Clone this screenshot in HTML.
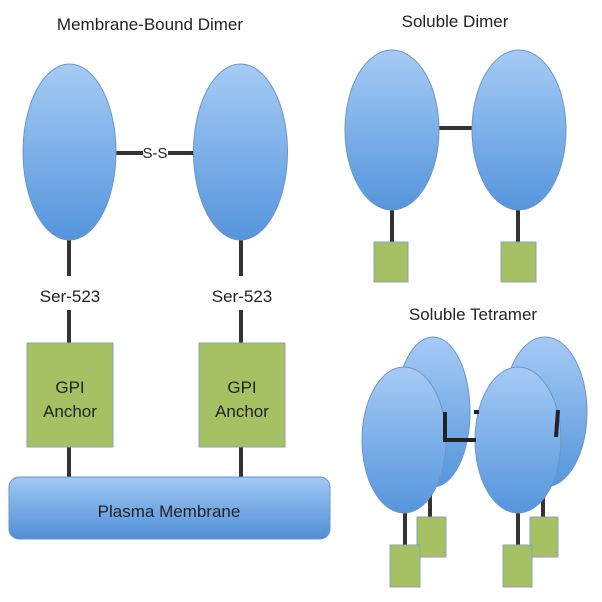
<!DOCTYPE html>
<html><head><style>
html,body{margin:0;padding:0;background:#fff;}
svg{display:block;}
text{font-family:"Liberation Sans","DejaVu Sans",sans-serif;fill:#222;}
</style></head><body>
<svg width="602" height="602" viewBox="0 0 602 602" xmlns="http://www.w3.org/2000/svg">
<defs>
<linearGradient id="b" x1="0" y1="0" x2="0" y2="1">
<stop offset="0" stop-color="#a6cbf5"/><stop offset="1" stop-color="#5595dc"/>
</linearGradient>
<linearGradient id="m" x1="0" y1="0" x2="0" y2="1">
<stop offset="0" stop-color="#a2c8f4"/><stop offset="1" stop-color="#4f8fd6"/>
</linearGradient>
</defs>
<g stroke="#333" stroke-width="4">
<line x1="69" y1="235" x2="69" y2="276"/><line x1="241" y1="235" x2="241" y2="276"/>
<line x1="69" y1="310" x2="69" y2="345"/><line x1="241" y1="310" x2="241" y2="345"/>
<line x1="69" y1="445" x2="69" y2="478"/><line x1="241" y1="445" x2="241" y2="478"/>
<line x1="113" y1="153" x2="143" y2="153"/><line x1="168" y1="153" x2="195" y2="153"/>
<line x1="392" y1="205" x2="392" y2="243"/><line x1="518" y1="205" x2="518" y2="243"/>
<line x1="438" y1="128" x2="474" y2="128"/>
<line x1="405" y1="508" x2="405" y2="546"/><line x1="430" y1="483" x2="430" y2="518"/>
<line x1="518" y1="508" x2="518" y2="546"/><line x1="543" y1="483" x2="543" y2="518"/>
</g>
<text x="150" y="30" font-size="17" text-anchor="middle">Membrane-Bound Dimer</text>
<text x="455" y="27" font-size="17" text-anchor="middle">Soluble Dimer</text>
<text x="473" y="320" font-size="17" text-anchor="middle">Soluble Tetramer</text>
<g stroke="#6a96c8" stroke-width="1" fill="url(#b)">
<ellipse cx="69.5" cy="152" rx="46.5" ry="88"/>
<ellipse cx="240.5" cy="152" rx="47" ry="88"/>
<ellipse cx="392" cy="130" rx="47" ry="80"/>
<ellipse cx="519" cy="130" rx="47" ry="80"/>
<ellipse cx="433" cy="412" rx="37" ry="75"/>
<ellipse cx="545" cy="412" rx="42" ry="75"/>
<ellipse cx="404" cy="440" rx="42" ry="73"/>
<ellipse cx="518" cy="440" rx="43" ry="73"/>
</g>
<g stroke="#222" stroke-width="4" fill="none">
<polyline points="445,412 445,440 476,440"/>
<line x1="558" y1="410" x2="556" y2="437"/>
<line x1="474" y1="412" x2="479" y2="412"/>
</g>
<text x="155" y="158" font-size="15" text-anchor="middle">S-S</text>
<text x="70" y="302" font-size="17" text-anchor="middle">Ser-523</text>
<text x="242" y="302" font-size="17" text-anchor="middle">Ser-523</text>
<g fill="#a6c163" stroke="#89a4b4" stroke-width="1">
<rect x="27" y="343" width="86" height="104"/>
<rect x="199" y="343" width="86" height="104"/>
<rect x="374" y="242" width="34" height="40"/>
<rect x="501" y="242" width="35" height="40"/>
<rect x="417" y="517" width="29" height="40"/>
<rect x="530" y="517" width="28" height="40"/>
<rect x="390" y="545" width="30" height="42"/>
<rect x="503" y="545" width="29" height="42"/>
</g>
<text x="70" y="393" font-size="17" text-anchor="middle">GPI</text>
<text x="70" y="417" font-size="17" text-anchor="middle">Anchor</text>
<text x="242" y="393" font-size="17" text-anchor="middle">GPI</text>
<text x="242" y="417" font-size="17" text-anchor="middle">Anchor</text>
<rect x="9" y="477" width="321" height="62" rx="10" fill="url(#m)" stroke="#6a96c8"/>
<text x="169" y="517" font-size="17" text-anchor="middle">Plasma Membrane</text>
</svg>
</body></html>
